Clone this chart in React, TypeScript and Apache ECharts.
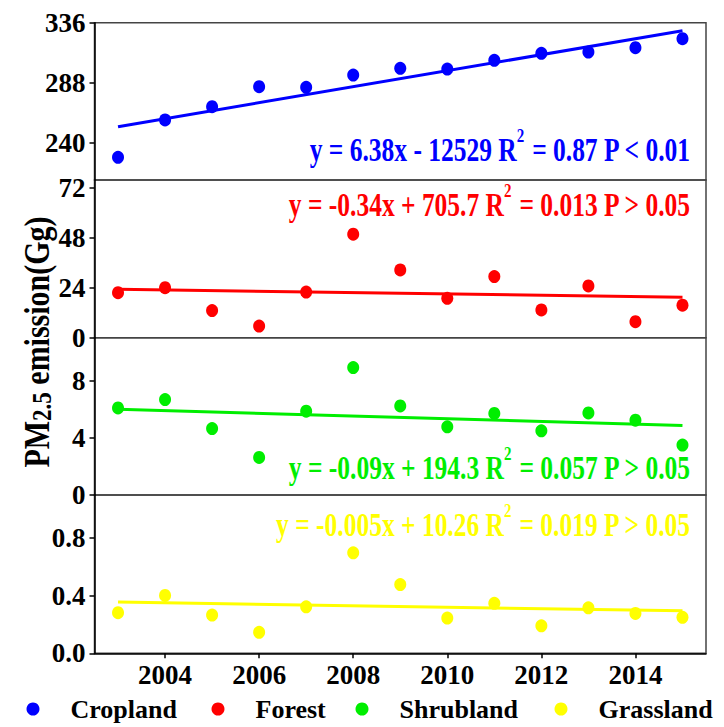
import React, { useEffect, useRef } from "react";
import * as echarts from "echarts";

const years = [2003, 2004, 2005, 2006, 2007, 2008, 2009, 2010, 2011, 2012, 2013, 2014, 2015];
const cropland = [228.2, 258.1, 268.7, 284.7, 284.2, 294.1, 299.5, 298.9, 305.9, 311.5, 312.5, 316.0, 323.2];
const forest = [21.6, 24.0, 13.0, 5.6, 21.9, 49.6, 32.5, 18.9, 29.3, 13.3, 24.8, 7.7, 15.6];
const shrubland = [6.09, 6.67, 4.65, 2.63, 5.86, 8.91, 6.23, 4.77, 5.7, 4.49, 5.74, 5.23, 3.49];
const grassland = [0.282, 0.402, 0.266, 0.146, 0.323, 0.698, 0.478, 0.245, 0.347, 0.191, 0.316, 0.277, 0.25];

// fitted line end values (at 2003 and 2015)
const croplandFit = [252.7, 329.6];
const forestFit = [23.2, 19.4];
const shrublandFit = [6.0, 4.86];
const grasslandFit = [0.356, 0.295];

const seriesNames = ["Cropland", "Forest", "Shrubland", "Grassland"];
const seriesColors = ["#0000FF", "#FF0000", "#00EE00", "#FFFF00"];

const yRanges = [
  [210, 336],
  [0, 75.6],
  [0, 11],
  [0, 1.1],
];
const yTicks = [
  [240, 288, 336],
  [0, 24, 48, 72],
  [0, 4, 8],
  [0, 0.4, 0.8],
];
const xTicks = [2004, 2006, 2008, 2010, 2012, 2014];

const equations = [
  ["y = 6.38x - 12529 R", " = 0.87 P < 0.01"],
  ["y = -0.34x + 705.7 R", " = 0.013 P > 0.05"],
  ["y = -0.09x + 194.3 R", " = 0.057 P > 0.05"],
  ["y = -0.005x + 10.26 R", " = 0.019 P > 0.05"],
];

const FONT = "Liberation Serif";

export default function App() {
  const ref = useRef<HTMLDivElement>(null);
  useEffect(() => {
    if (!ref.current) return;
    const chart = echarts.init(ref.current, null, { renderer: "svg" });
    const allData = [cropland, forest, shrubland, grassland];
    const fits = [croplandFit, forestFit, shrublandFit, grasslandFit];
    const gridTops = [22.7, 180, 337.7, 495];
    const gridHeights = [157.3, 157.7, 157.3, 158.3];

    const grid = gridTops.map((t, i) => ({
      left: 94.5,
      right: 18,
      top: t,
      height: gridHeights[i],
      show: true,
      borderColor: "#444",
      borderWidth: 1.5,
      backgroundColor: "transparent",
    }));

    const xAxis = [0, 1, 2, 3].map((i) => ({
      type: "value",
      gridIndex: i,
      min: 2002.5,
      max: 2015.5,
      show: i === 3,
      axisLine: { show: true, lineStyle: { color: "#000", width: 1.5 } },
      axisTick: {
        show: true,
        length: 5,
        customValues: xTicks,
        lineStyle: { color: "#000", width: 1.5 },
      },
      axisLabel: {
        show: true,
        customValues: xTicks,
        margin: 8,
        color: "#000",
        fontFamily: FONT,
        fontWeight: "bold",
        fontSize: 27,
        formatter: (v: number) => String(v),
      },
      splitLine: { show: false },
    }));

    const yAxis = [0, 1, 2, 3].map((i) => ({
      type: "value",
      gridIndex: i,
      min: yRanges[i][0],
      max: yRanges[i][1],
      axisLine: { show: true, lineStyle: { color: "#000", width: 1.5 } },
      axisTick: {
        show: true,
        length: 5,
        customValues: yTicks[i],
        lineStyle: { color: "#000", width: 1.5 },
      },
      axisLabel: {
        show: true,
        customValues: yTicks[i],
        margin: 9,
        color: "#000",
        fontFamily: FONT,
        fontWeight: "bold",
        fontSize: 27,
        formatter: (v: number) => (i === 3 ? v.toFixed(1) : String(v)),
      },
      splitLine: { show: false },
    }));

    const series: any[] = [];
    allData.forEach((d, i) => {
      series.push({
        type: "scatter",
        name: seriesNames[i],
        xAxisIndex: i,
        yAxisIndex: i,
        data: years.map((y, k) => [y, d[k]]),
        symbol: "circle",
        symbolSize: [12, 13],
        itemStyle: { color: seriesColors[i], opacity: 1 },
        z: 3,
      });
      series.push({
        type: "line",
        name: seriesNames[i] + " fit",
        xAxisIndex: i,
        yAxisIndex: i,
        data: [
          [years[0], fits[i][0]],
          [years[years.length - 1], fits[i][1]],
        ],
        showSymbol: false,
        symbol: "none",
        lineStyle: { color: seriesColors[i], width: 3 },
        z: 2,
      });
    });

    const legendLefts = [21.5, 206.5, 350.5, 549.5];
    const legend = seriesNames.map((n, i) => ({
      data: [{ name: n, icon: "circle", itemStyle: { color: seriesColors[i], opacity: 1 } }],
      left: legendLefts[i],
      top: 691,
      itemWidth: 13,
      itemHeight: 13,
      selectedMode: false,
      formatter: "{p|}{n|{name}}",
      textStyle: {
        color: "#000",
        fontFamily: FONT,
        fontWeight: "bold",
        fontSize: 26,
        rich: {
          p: { width: 26 },
          n: { color: "#000", fontFamily: FONT, fontWeight: "bold", fontSize: 26 },
        },
      },
    }));

    const eqY = [150, 205, 468, 525];
    const graphic: any[] = equations.map((e, i) => ({
      type: "text",
      x: 690,
      y: eqY[i],
      scaleY: 1.28,
      z: 10,
      style: {
        text: `{a|${e[0]}}{s|2}{a|${e[1]}}`,
        align: "right",
        verticalAlign: "middle",
        fill: seriesColors[i],
        rich: {
          a: { fontSize: 25.5, fontWeight: "bold", fontFamily: FONT, fill: seriesColors[i], lineHeight: 40 },
          s: {
            fontSize: 15,
            fontWeight: "bold",
            fontFamily: FONT,
            fill: seriesColors[i],
            padding: [0, 0, 22, 0],
          },
        },
      },
    }));
    graphic.push({
      type: "text",
      x: 37,
      y: 342,
      rotation: Math.PI / 2,
      scaleY: 1.2,
      style: {
        text: "{a|PM}{b|2.5}{a| emission(Gg)}",
        align: "center",
        verticalAlign: "middle",
        fill: "#000",
        rich: {
          a: { fontSize: 30, fontWeight: "bold", fontFamily: FONT, fill: "#000", lineHeight: 36 },
          b: { fontSize: 23, fontWeight: "bold", fontFamily: FONT, fill: "#000", padding: [7, 0, 0, 0] },
        },
      },
    });

    chart.setOption({
      animation: false,
      backgroundColor: "#fff",
      grid,
      xAxis,
      yAxis,
      series,
      legend,
      graphic,
    });
    return () => chart.dispose();
  }, []);
  return (
    <div
      ref={ref}
      style={{ position: "absolute", left: 0, top: 0, width: 724, height: 727 }}
    />
  );
}
